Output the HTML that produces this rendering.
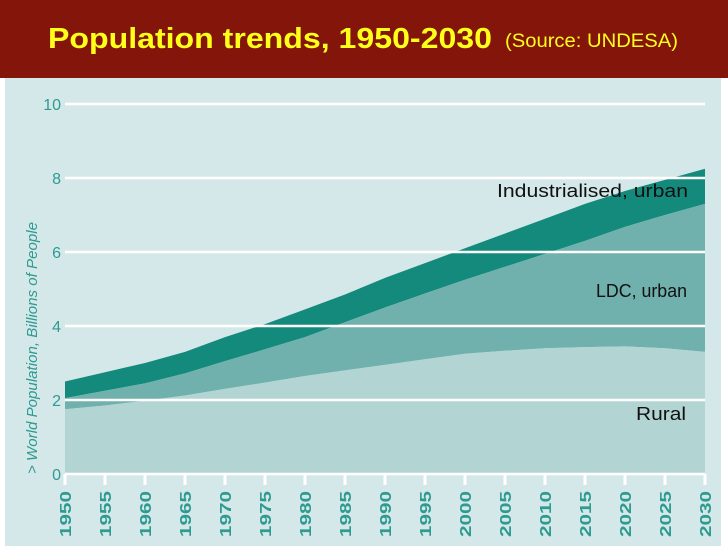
<!DOCTYPE html>
<html><head><meta charset="utf-8"><style>
html,body{margin:0;padding:0;background:#fff;}
svg{display:block;font-family:"Liberation Sans",sans-serif;}
</style></head><body>
<svg id="chart" width="728" height="546">
<rect x="0" y="0" width="728" height="78" fill="#84150A"/>
<text x="48" y="48" fill="#FFFF1A" font-size="29" font-weight="bold" textLength="444" lengthAdjust="spacingAndGlyphs">Population trends, 1950-2030</text>
<text x="505" y="47" fill="#FFFF1A" font-size="19" textLength="173" lengthAdjust="spacingAndGlyphs">(Source: UNDESA)</text>
<rect x="5" y="78" width="716" height="468" fill="#D5E8E9"/>
<g id="areas"></g>
<g id="grid"></g>
<g id="axes"></g>
<text transform="translate(37,348) rotate(-90)" text-anchor="middle" fill="#2E9A90" font-size="15" font-style="italic" textLength="252" lengthAdjust="spacingAndGlyphs">&gt; World Population, Billions of People</text>
<text x="497" y="197" font-size="18" fill="#111" textLength="191" lengthAdjust="spacingAndGlyphs">Industrialised, urban</text>
<text x="596" y="297" font-size="18" fill="#111" textLength="91" lengthAdjust="spacingAndGlyphs">LDC, urban</text>
<text x="636" y="420" font-size="18" fill="#111" textLength="50" lengthAdjust="spacingAndGlyphs">Rural</text>
</svg>
<script>
const years=[1950,1955,1960,1965,1970,1975,1980,1985,1990,1995,2000,2005,2010,2015,2020,2025,2030];
const rural=[1.75,1.85,1.98,2.12,2.3,2.47,2.65,2.8,2.95,3.1,3.25,3.33,3.4,3.43,3.45,3.4,3.3];
const ldcTop=[2.05,2.25,2.45,2.72,3.05,3.37,3.7,4.1,4.5,4.88,5.25,5.6,5.95,6.3,6.68,7.0,7.3];
const total=[2.5,2.75,3.0,3.3,3.7,4.05,4.45,4.85,5.3,5.7,6.1,6.5,6.9,7.3,7.65,7.95,8.25];
const yTicks=[0,2,4,6,8,10];
const NS="http://www.w3.org/2000/svg";
const X=y=>65+(y-1950)*8;
const Y=v=>474-v*37;
function area(top,bot){let d="M"+years.map((yr,i)=>X(yr)+","+Y(top[i])).join(" L");
for(let i=years.length-1;i>=0;i--)d+=" L"+X(years[i])+","+Y(bot?bot[i]:0);return d+"Z";}
const areas=document.getElementById('areas');
function addArea(d,fill,name){const p=document.createElementNS(NS,'path');p.setAttribute('d',d);p.setAttribute('fill',fill);


areas.appendChild(p);}
addArea(area(total,ldcTop),'#138A7C','area-industrialised-urban');
addArea(area(ldcTop,rural),'#70B1AE','area-ldc-urban');
addArea(area(rural,null),'#B2D5D4','area-rural');
const grid=document.getElementById('grid');
yTicks.forEach(t=>{const l=document.createElementNS(NS,'line');
l.setAttribute('x1',65);l.setAttribute('x2',705);l.setAttribute('y1',Y(t));l.setAttribute('y2',Y(t));
l.setAttribute('stroke','#fff');l.setAttribute('stroke-width','2.5');


grid.appendChild(l);
const tx=document.createElementNS(NS,'text');tx.setAttribute('x',61);tx.setAttribute('y',Y(t)+6);
tx.setAttribute('text-anchor','end');tx.setAttribute('fill','#2E9A90');tx.setAttribute('font-size','16');tx.textContent=t;


grid.appendChild(tx);});
const axes=document.getElementById('axes');
years.forEach(yr=>{const l=document.createElementNS(NS,'line');
l.setAttribute('x1',X(yr));l.setAttribute('x2',X(yr));l.setAttribute('y1',474);l.setAttribute('y2',485);
l.setAttribute('stroke','#fff');l.setAttribute('stroke-width','3');


axes.appendChild(l);
const tx=document.createElementNS(NS,'text');
tx.setAttribute('transform','translate('+(X(yr)+6)+',537) rotate(-90)');
tx.setAttribute('fill','#2E9A90');tx.setAttribute('font-size','16');tx.setAttribute('font-weight','bold');
tx.setAttribute('textLength','46');tx.setAttribute('lengthAdjust','spacingAndGlyphs');tx.textContent=yr;


axes.appendChild(tx);});
</script>
</body></html>
